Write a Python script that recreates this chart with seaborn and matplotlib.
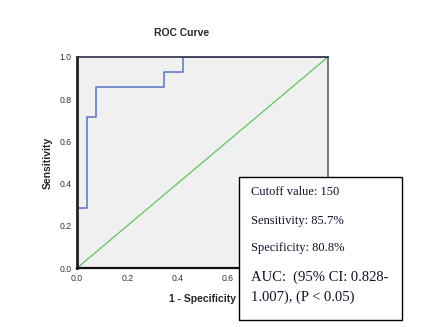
import matplotlib
matplotlib.use("Agg")
import matplotlib.pyplot as plt
from matplotlib.patches import Rectangle
import pandas as pd
import seaborn as sns

# ROC curve coordinates (1 - specificity, sensitivity)
fpr = [0.0, 0.0, 0.038, 0.038, 0.077, 0.077, 0.346, 0.346, 0.423, 0.423, 1.0]
tpr = [0.0, 0.286, 0.286, 0.714, 0.714, 0.857, 0.857, 0.929, 0.929, 1.0, 1.0]
# Reference (chance) line
ref_x = [0.0, 1.0]
ref_y = [0.0, 1.0]

ticks = [0.0, 0.2, 0.4, 0.6, 0.8, 1.0]
tick_labels = ["0.0", "0.2", "0.4", "0.6", "0.8", "1.0"]

box_lines = ["Cutoff value: 150", "Sensitivity: 85.7%", "Specificity: 80.8%"]
auc_lines = ["AUC:  (95% CI: 0.828-", "1.007), (P < 0.05)"]

sns.set_style("white")
plt.rcParams["font.family"] = ["Liberation Sans", "DejaVu Sans"]

fig = plt.figure(figsize=(4.22, 3.27), dpi=100)
ax = fig.add_axes([0.1825, 0.1804, 0.5945, 0.6453])
ax.set_facecolor("#f0f0f0")

roc = pd.DataFrame({"fpr": fpr, "tpr": tpr})
ref = pd.DataFrame({"x": ref_x, "y": ref_y})
sns.lineplot(data=ref, x="x", y="y", ax=ax, color="#5cc75c", linewidth=0.9,
             sort=False, estimator=None)
sns.lineplot(data=roc, x="fpr", y="tpr", ax=ax, color="#5873c4", linewidth=1.1,
             sort=False, estimator=None)

ax.set_xlim(0, 1)
ax.set_ylim(0, 1)
ax.set_xticks(ticks)
ax.set_xticklabels(tick_labels)
ax.set_yticks(ticks)
ax.set_yticklabels(tick_labels)
ax.tick_params(axis="both", direction="out", length=3, width=0.8, color="#222222",
               labelsize=6.2, labelcolor="#333333", pad=1)

ax.set_xlabel("1 - Specificity", fontsize=7.5, fontweight="bold", labelpad=8)
ax.set_ylabel("Sensitivity", fontsize=7.5, fontweight="bold", labelpad=5)

ax.spines["left"].set_linewidth(2.0)
ax.spines["left"].set_color("#222222")
ax.spines["bottom"].set_linewidth(1.6)
ax.spines["bottom"].set_color("#111111")
ax.spines["top"].set_linewidth(1.2)
ax.spines["top"].set_color("#2a2f45")
ax.spines["right"].set_linewidth(1.4)
ax.spines["right"].set_color("#777777")

fig.text(182 / 422, 1 - 33 / 327, "ROC Curve", ha="center", va="center",
         fontsize=7.5, fontweight="bold")

# Annotation box with the cutoff statistics
box_x0, box_y0, box_w, box_h = 239 / 422, 7 / 327, 163 / 422, 143 / 327
box = Rectangle((box_x0, box_y0), box_w, box_h, transform=fig.transFigure,
                facecolor="white", edgecolor="black", linewidth=1.0, zorder=10)
fig.add_artist(box)

# x tick labels lying entirely beneath the box are hidden by it; skip drawing them
box_left_px = box_x0 * fig.get_figwidth() * fig.dpi
fig.canvas.draw()
renderer = fig.canvas.get_renderer()
for lbl in ax.get_xticklabels():
    if lbl.get_window_extent(renderer).x0 > box_left_px:
        lbl.set_visible(False)

serif = ["Liberation Serif", "DejaVu Serif"]
ys = [192, 221, 248]
for line, yy in zip(box_lines, ys):
    fig.text(251 / 422, 1 - yy / 327, line, ha="left", va="center", fontsize=9,
             family=serif, color="#10102a", zorder=11)
for line, yy in zip(auc_lines, [277, 297]):
    fig.text(251 / 422, 1 - yy / 327, line, ha="left", va="center", fontsize=10.5,
             family=serif, color="#10102a", zorder=11)

fig.savefig("out.png", dpi=100)
